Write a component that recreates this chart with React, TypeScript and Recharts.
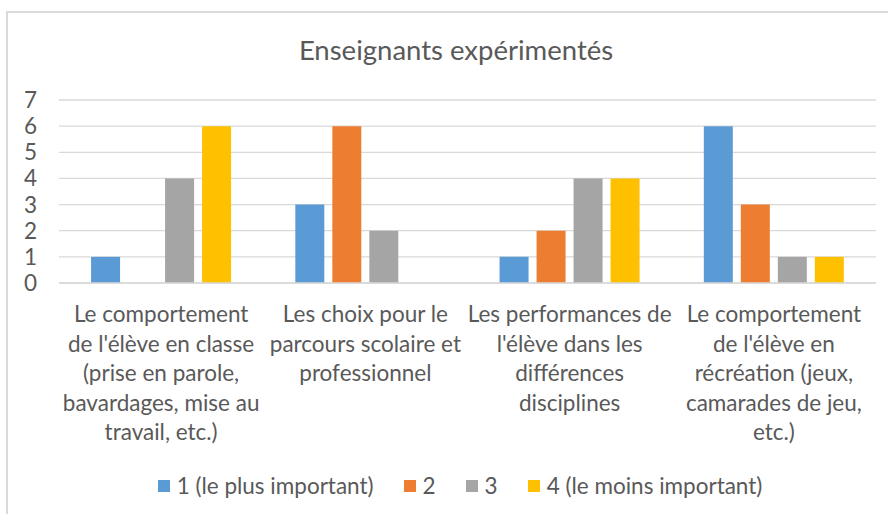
import React from "react";
import { BarChart, Bar, XAxis, YAxis, CartesianGrid, Legend } from "recharts";

const title = "Enseignants expérimentés";

const categoryLines: string[][] = [
  ["Le comportement", "de l'élève en classe", "(prise en parole,", "bavardages, mise au", "travail, etc.)"],
  ["Les choix pour le", "parcours scolaire et", "professionnel"],
  ["Les performances de", "l'élève dans les", "différences", "disciplines"],
  ["Le comportement", "de l'élève en", "récréation (jeux,", "camarades de jeu,", "etc.)"],
];
const categories = categoryLines.map((l) => l.join(" "));

const seriesNames = ["1 (le plus important)", "2", "3", "4 (le moins important)"];
const series1 = [1, 3, 1, 6];
const series2 = [0, 6, 2, 3];
const series3 = [4, 2, 4, 1];
const series4 = [6, 0, 4, 1];
const colors = ["#5B9BD5", "#ED7D31", "#A5A5A5", "#FFC000"];
const yTicks = [0, 1, 2, 3, 4, 5, 6, 7];

const data = categories.map((c, i) => ({
  name: c,
  s1: series1[i],
  s2: series2[i],
  s3: series3[i],
  s4: series4[i],
}));

const FONT = "Lato, 'Open Sans', sans-serif";
const TEXT = "#595959";

const CategoryTick = (props: any) => {
  const { x, y, payload } = props;
  const idx = categories.indexOf(payload.value);
  const lines = idx >= 0 ? categoryLines[idx] : [String(payload.value)];
  return (
    <text x={x} y={y + 39} textAnchor="middle" fill={TEXT} fontFamily={FONT} fontSize={22.5}>
      {lines.map((l, i) => (
        <tspan key={i} x={x} dy={i === 0 ? 0 : 29.5}>
          {l}
        </tspan>
      ))}
    </text>
  );
};

const LegendContent = (props: any) => {
  const payload = props.payload || [];
  return (
    <div
      style={{
        display: "flex",
        justifyContent: "center",
        alignItems: "center",
        paddingLeft: 32,
        boxSizing: "border-box",
        width: 888,
        fontFamily: FONT,
        fontSize: 22.5,
        color: TEXT,
        gap: 30,
      }}
    >
      {payload.map((p: any, i: number) => (
        <div key={i} style={{ display: "flex", alignItems: "center", gap: 7 }}>
          <span style={{ display: "inline-block", width: 12, height: 12, background: p.color }} />
          <span>{p.value}</span>
        </div>
      ))}
    </div>
  );
};

export default function App() {
  return (
    <div
      style={{
        position: "absolute",
        left: 0,
        top: 0,
        width: 888,
        height: 514,
        background: "#fff",
        overflow: "hidden",
      }}
    >
      <div
        style={{
          position: "absolute",
          left: 6,
          top: 11,
          width: 882,
          height: 503,
          borderLeft: "2px solid #D9D9D9",
          borderTop: "2px solid #D9D9D9",
          boxSizing: "border-box",
        }}
      />
      <svg style={{ position: "absolute", left: 0, top: 0 }} width={888} height={80}>
        <text x={456} y={60} textAnchor="middle" fill={TEXT} fontFamily={FONT} fontSize={27.5}>
          {title}
        </text>
      </svg>
      <div style={{ position: "absolute", left: 0, top: 0 }}>
        <BarChart
          width={888}
          height={514}
          data={data}
          margin={{ top: 100, right: 12, bottom: 201, left: 0 }}
          barCategoryGap="15.7%"
          barGap={8}
        >
          <CartesianGrid vertical={false} stroke="#D9D9D9" strokeWidth={1.3} />
          <XAxis
            dataKey="name"
            height={30}
            axisLine={{ stroke: "#D9D9D9", strokeWidth: 1.3 }}
            tickLine={false}
            tickSize={0}
            tickMargin={0}
            interval={0}
            tick={<CategoryTick />}
          />
          <YAxis
            width={59}
            domain={[0, 7]}
            ticks={yTicks}
            interval={0}
            axisLine={false}
            tickLine={false}
            tickSize={0}
            tickMargin={22}
            tick={{ fill: TEXT, fontFamily: FONT, fontSize: 22.5 }}
          />
          <Legend
            layout="horizontal"
            verticalAlign="middle"
            align="center"
            wrapperStyle={{ top: 472, left: 0, width: 888 }}
            content={<LegendContent />}
          />
          <Bar dataKey="s1" name={seriesNames[0]} fill={colors[0]} isAnimationActive={false} />
          <Bar dataKey="s2" name={seriesNames[1]} fill={colors[1]} isAnimationActive={false} />
          <Bar dataKey="s3" name={seriesNames[2]} fill={colors[2]} isAnimationActive={false} />
          <Bar dataKey="s4" name={seriesNames[3]} fill={colors[3]} isAnimationActive={false} />
        </BarChart>
      </div>
    </div>
  );
}
